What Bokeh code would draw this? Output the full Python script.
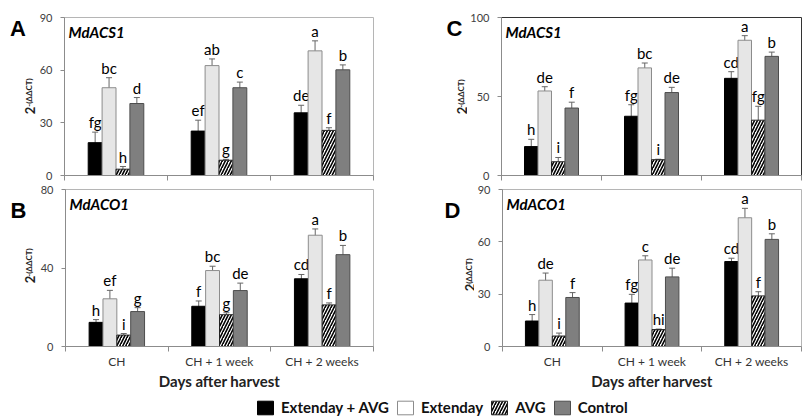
import math
from bokeh.plotting import figure
from bokeh.models import (ColumnDataSource, Whisker, TeeHead, Label, FixedTicker,
                          Legend, LegendItem, Range1d, Plot)
from bokeh.layouts import column, row
from bokeh.embed import file_html
from bokeh.resources import INLINE
from bokeh.core.properties import value

# ---------------- data ----------------
categories = ["CH", "CH + 1 week", "CH + 2 weeks"]
treatments = ["Extenday + AVG", "Extenday", "AVG", "Control"]

# Panel A : MdACS1
A_ext_avg = [18.7, 25.3, 35.7]
A_ext = [50.0, 62.6, 71.0]
A_avg = [3.6, 8.7, 25.7]
A_ctrl = [41.0, 50.0, 60.2]
A_ext_avg_err = [6.0, 6.2, 4.3]
A_ext_err = [5.7, 3.8, 5.7]
A_avg_err = [1.5, 0.5, 1.5]
A_ctrl_err = [3.4, 3.2, 2.8]
A_ext_avg_let = ["fg", "ef", "de"]
A_ext_let = ["bc", "ab", "a"]
A_avg_let = ["h", "g", "f"]
A_ctrl_let = ["d", "c", "b"]
A_ticks = [0, 30, 60, 90]

# Panel B : MdACO1
B_ext_avg = [12.3, 20.5, 34.5]
B_ext = [24.3, 38.7, 56.7]
B_avg = [5.8, 16.2, 21.2]
B_ctrl = [17.8, 28.5, 46.8]
B_ext_avg_err = [1.4, 2.7, 2.2]
B_ext_err = [4.3, 2.2, 3.2]
B_avg_err = [0.8, 1.0, 1.0]
B_ctrl_err = [2.0, 3.8, 4.7]
B_ext_avg_let = ["h", "f", "cd"]
B_ext_let = ["ef", "bc", "a"]
B_avg_let = ["i", "g", "f"]
B_ctrl_let = ["g", "de", "b"]
B_ticks = [0, 40, 80]

# Panel C : MdACS1
C_ext_avg = [18.3, 37.5, 61.5]
C_ext = [53.5, 68.1, 85.6]
C_avg = [8.7, 10.0, 35.0]
C_ctrl = [42.7, 52.5, 75.4]
C_ext_avg_err = [4.6, 7.3, 4.2]
C_ext_err = [2.7, 3.1, 2.9]
C_avg_err = [2.7, 0.3, 8.8]
C_ctrl_err = [3.7, 3.3, 2.7]
C_ext_avg_let = ["h", "fg", "cd"]
C_ext_let = ["de", "bc", "a"]
C_avg_let = ["i", "i", "fg"]
C_ctrl_let = ["f", "de", "b"]
C_ticks = [0, 50, 100]

# Panel D : MdACO1
D_ext_avg = [14.6, 24.9, 48.7]
D_ext = [38.0, 49.6, 73.8]
D_avg = [6.0, 9.7, 29.0]
D_ctrl = [28.1, 39.9, 61.4]
D_ext_avg_err = [3.7, 5.0, 1.9]
D_ext_err = [4.1, 2.4, 5.4]
D_avg_err = [1.7, 0.3, 2.4]
D_ctrl_err = [2.8, 5.0, 3.2]
D_ext_avg_let = ["h", "fg", "cd"]
D_ext_let = ["de", "c", "a"]
D_avg_let = ["i", "hi", "f"]
D_ctrl_let = ["f", "de", "b"]
D_ticks = [0, 30, 60, 90]

y_title_base = "2"
y_title_sup = "-(ΔΔCT)"

# ---------------- styles ----------------
FONT = "Lato"
STYLES = [
    dict(fill_color="black", line_color="black"),
    dict(fill_color="#e6e6e6", line_color="#8c8c8c"),
    dict(fill_color="white", line_color="#222222", hatch_pattern="/",
         hatch_color="black", hatch_scale=6, hatch_weight=1.6),
    dict(fill_color="#7f7f7f", line_color="#4d4d4d"),
]
BAR_W = 0.135


def make_panel(series, errs, lets, ymax, yticks, gene, bottom,
               w, h, mb_left, mb_right, mb_top, mb_bottom, outline):
    p = figure(width=w, height=h, x_range=(0, 3), y_range=(0, ymax),
               output_backend="svg", toolbar_location=None, title=None,
               min_border_left=mb_left, min_border_right=mb_right,
               min_border_top=mb_top, min_border_bottom=mb_bottom)
    p.grid.visible = False
    p.outline_line_color = outline
    p.background_fill_color = "white"
    p.border_fill_color = "white"

    for i, (vals, ev, lt) in enumerate(zip(series, errs, lets)):
        xs = [c + 0.5 + (i - 1.5) * BAR_W for c in range(len(categories))]
        src = ColumnDataSource(dict(x=xs, top=vals,
                                    upper=[v + e for v, e in zip(vals, ev)],
                                    lower=[v - e for v, e in zip(vals, ev)],
                                    lab=lt))
        p.vbar(x="x", top="top", width=BAR_W, source=src, line_width=1, **STYLES[i])
        wk = Whisker(base="x", upper="upper", lower="lower", source=src,
                     line_color="#666666", line_width=1,
                     upper_head=TeeHead(size=6, line_color="#666666", line_width=1),
                     lower_head=TeeHead(size=6, line_color="#666666", line_width=1))
        p.add_layout(wk)
        p.text(x="x", y="upper", text="lab", source=src, text_align="center",
               text_baseline="bottom", y_offset=-1, text_font=value(FONT),
               text_font_size="15px", text_color="black")

    xa = p.xaxis[0]
    xa.major_tick_out = 0
    xa.major_tick_in = 0
    xa.minor_tick_out = 5
    xa.minor_tick_in = 0
    xa.axis_line_color = "#8c8c8c"
    xa.minor_tick_line_color = "#8c8c8c"
    if bottom:
        xa.ticker = FixedTicker(ticks=[0.5, 1.5, 2.5], minor_ticks=[0, 1, 2, 3])
        xa.major_label_overrides = {0.5: categories[0], 1.5: categories[1], 2.5: categories[2]}
        xa.major_label_text_font = FONT
        xa.major_label_text_font_size = "12px"
        xa.major_label_text_color = "#333333"
        xa.major_label_standoff = 2
        xa.axis_label = "Days after harvest"
        xa.axis_label_text_font = FONT
        xa.axis_label_text_font_size = "15px"
        xa.axis_label_text_font_style = "bold"
        xa.axis_label_text_color = "#222222"
        xa.axis_label_standoff = 0
    else:
        xa.ticker = FixedTicker(ticks=[], minor_ticks=[0, 1, 2, 3])
        xa.major_label_standoff = 0

    ya = p.yaxis[0]
    ya.ticker = FixedTicker(ticks=yticks, minor_ticks=[])
    ya.major_tick_out = 4
    ya.major_tick_in = 0
    ya.axis_line_color = "#8c8c8c"
    ya.major_tick_line_color = "#8c8c8c"
    ya.major_label_text_font = FONT
    ya.major_label_text_font_size = "11px"
    ya.major_label_text_color = "#404040"
    ya.major_label_standoff = 8

    fh = h - mb_top - mb_bottom
    p.add_layout(Label(x=4, y=fh - 5, x_units="screen", y_units="screen",
                       text=gene, text_align="left", text_baseline="top",
                       text_font=FONT, text_font_size="15px",
                       text_font_style="bold italic", text_color="black"))
    return p


def make_strip(w, h, frame_bottom, letter, letter_xy, base_xy, sup_xy):
    """Axis-free text strip left of a panel (panel letter and y-axis title).
    Inside a row, its frame is aligned with the neighbouring panel's frame, so
    positions (pixels from the row's top-left) are converted to frame offsets."""
    s = Plot(width=w, height=h, x_range=Range1d(0, w), y_range=Range1d(0, h),
             output_backend="svg", toolbar_location=None, min_border=0, title=None,
             outline_line_color=None, background_fill_color="white",
             border_fill_color="white")
    s.add_layout(Label(x=letter_xy[0], y=frame_bottom - letter_xy[1],
                       x_units="screen", y_units="screen",
                       text=letter, text_align="center", text_baseline="middle",
                       text_font="Liberation Sans", text_font_size="22px",
                       text_font_style="bold", text_color="black"))
    s.add_layout(Label(x=base_xy[0], y=frame_bottom - base_xy[1],
                       x_units="screen", y_units="screen",
                       text=y_title_base, angle=90, angle_units="deg",
                       text_align="center", text_baseline="middle",
                       text_font=FONT, text_font_size="13px",
                       text_font_style="bold", text_color="#222222"))
    s.add_layout(Label(x=sup_xy[0], y=frame_bottom - sup_xy[1],
                       x_units="screen", y_units="screen",
                       text=y_title_sup, angle=90, angle_units="deg",
                       text_align="center", text_baseline="middle",
                       text_font=FONT, text_font_size="8px",
                       text_font_style="bold", text_color="#222222"))
    return s


TOP_H = 182
BOT_H = 210
TOP_MT, TOP_MB = 17, 7
BOT_MT, BOT_MB = 7, 46
TOP_FB = TOP_H - TOP_MB          # frame bottom within the top row
BOT_FB = BOT_H - BOT_MB          # frame bottom within the bottom row

pA = make_panel([A_ext_avg, A_ext, A_avg, A_ctrl],
                [A_ext_avg_err, A_ext_err, A_avg_err, A_ctrl_err],
                [A_ext_avg_let, A_ext_let, A_avg_let, A_ctrl_let],
                90, A_ticks, "MdACS1", False, 364, TOP_H, 26, 27, TOP_MT, TOP_MB, "#b5b5b5")
sA = make_strip(36, TOP_H, TOP_FB, "A", (17.5, 28), (29.5, 110), (28.5, 92))

pC = make_panel([C_ext_avg, C_ext, C_avg, C_ctrl],
                [C_ext_avg_err, C_ext_err, C_avg_err, C_ctrl_err],
                [C_ext_avg_let, C_ext_let, C_avg_let, C_ctrl_let],
                100, C_ticks, "MdACS1", False, 336, TOP_H, 32, 2, TOP_MT, TOP_MB, "#333333")
sC = make_strip(67, TOP_H, TOP_FB, "C", (54, 28), (61, 110), (60, 93))

pB = make_panel([B_ext_avg, B_ext, B_avg, B_ctrl],
                [B_ext_avg_err, B_ext_err, B_avg_err, B_ctrl_err],
                [B_ext_avg_let, B_ext_let, B_avg_let, B_ctrl_let],
                80, B_ticks, "MdACO1", True, 363, BOT_H, 26, 27, BOT_MT, BOT_MB, "#b5b5b5")
sB = make_strip(37, BOT_H, BOT_FB, "B", (18, 27.5), (29.5, 97), (28.5, 80))

pD = make_panel([D_ext_avg, D_ext, D_avg, D_ctrl],
                [D_ext_avg_err, D_ext_err, D_avg_err, D_ctrl_err],
                [D_ext_avg_let, D_ext_let, D_avg_let, D_ctrl_let],
                90, D_ticks, "MdACO1", True, 329, BOT_H, 28, 2, BOT_MT, BOT_MB, "#b5b5b5")
sD = make_strip(74, BOT_H, BOT_FB, "D", (52, 27.5), (69.5, 105), (68.5, 90))

# ---------------- legend ----------------
pL = figure(width=803, height=27, x_range=(0, 1), y_range=(1, 2),
            output_backend="svg", toolbar_location=None, min_border=0, title=None,
            x_axis_location=None, y_axis_location=None)
pL.grid.visible = False
pL.outline_line_color = None
legend_styles = [dict(STYLES[0]), dict(STYLES[1]), dict(STYLES[2]), dict(STYLES[3])]
legend_styles[1]["fill_color"] = "white"
items = []
for name, st in zip(treatments, legend_styles):
    # placeholder renderer outside the visible range; only its legend swatch shows
    r = pL.vbar(x=[0.5], top=[0], bottom=[0], width=0.1, **st)
    items.append(LegendItem(label=name, renderers=[r]))
leg = Legend(items=items, orientation="horizontal", location=(255, 3),
             glyph_width=20, glyph_height=17, label_text_font=FONT,
             label_text_font_size="15px", label_text_font_style="bold",
             label_text_color="#111111", spacing=6, label_standoff=6,
             padding=0, margin=0, border_line_color=None,
             background_fill_alpha=0)
pL.add_layout(leg, "center")

layout = column(row(sA, pA, sC, pC), row(sB, pB, sD, pD), pL)

open("out.html", "w").write(file_html(layout, INLINE))
